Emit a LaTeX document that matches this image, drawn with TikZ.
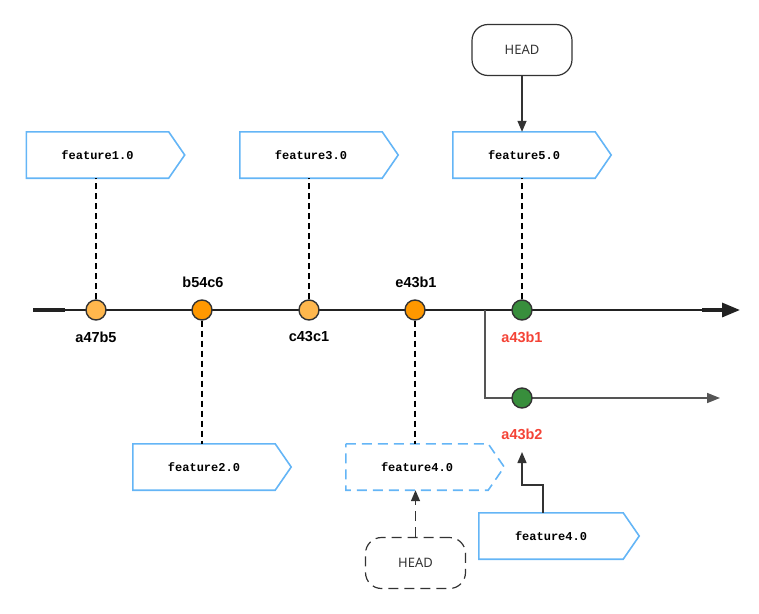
\documentclass[tikz,border=0pt]{standalone}
\usepackage{fontspec}
\setmainfont{Noto Sans}
\newfontfamily\labfont{Liberation Sans}
\newfontfamily\tagfont{Liberation Mono}
\usetikzlibrary{arrows.meta,calc}
\definecolor{lorange}{HTML}{FFB74D}
\definecolor{dorange}{HTML}{FF9800}
\definecolor{cgreen}{HTML}{388E3C}
\definecolor{tagblue}{HTML}{64B5F6}
\definecolor{lred}{HTML}{F44336}
\definecolor{ink}{HTML}{333333}
\definecolor{mainline}{HTML}{222222}
\definecolor{branchgray}{HTML}{555555}
\newcommand\drawtag[2]{\draw[tagblue,line width=1.6pt,#2] (#1.north west) -- (#1.north east) -- ($(#1.east)+(16,0)$) -- (#1.south east) -- (#1.south west) -- cycle;}
\begin{document}
\begin{tikzpicture}[x=1pt,y=-1pt,
  commit/.style={circle,draw=ink,line width=1.4pt,minimum size=20pt,inner sep=0pt},
  clabel/.style={font=\fontsize{14.5}{16}\selectfont\labfont\bfseries,text=black,inner sep=0pt},
  rlabel/.style={clabel,text=lred},
  tagbox/.style={minimum width=142pt,minimum height=46pt,inner sep=0pt,font=\fontsize{12}{14}\selectfont\tagfont\bfseries},
  headbox/.style={draw=ink,rounded corners=16pt,minimum width=100pt,minimum height=51pt,line width=1.2pt,font=\fontsize{13}{15}\selectfont,text=ink},
  link/.style={dash pattern=on 6pt off 4pt,line width=1.8pt,black},
  ptr/.style={ink,line width=1.4pt,-{Triangle[length=11pt,width=9pt]}},
]
\useasboundingbox (0,0) rectangle (759,613);

% main line
\coordinate (ms) at (33,310);
\coordinate (me) at (740,310);
\coordinate (ma) at (702,310);
\draw[mainline,line width=2.2pt] (ms) -- (ma);
\draw[mainline,line width=3.2pt] (ms) -- ++(32,0);
\draw[mainline,line width=3.2pt,-{Triangle[length=18pt,width=14pt]}] (ma) -- (me);

% branch
\coordinate (bs) at (485,310);
\coordinate (be) at (720,398);
\draw[branchgray,line width=1.6pt,-{Triangle[length=13pt,width=10pt]}] (bs) -- (bs |- be) -- (be);

% commits
\node[commit,fill=lorange] (c1) at (96,310) {};
\node[commit,fill=dorange] (c2) at (202,310) {};
\node[commit,fill=lorange] (c3) at (309,310) {};
\node[commit,fill=dorange] (c4) at (415,310) {};
\node[commit,fill=cgreen] (c5) at (522,310) {};
\node[commit,fill=cgreen] (c6) at (522,398) {};

% commit labels
\node[clabel] (l1) at (96,337) {a47b5};
\node[clabel] (l2) at (203,282) {b54c6};
\node[clabel] (l3) at (309,337) {c43c1};
\node[clabel] (l4) at (416,282) {e43b1};
\node[rlabel] (l5) at (522,337) {a43b1};
\node[rlabel] (l6) at (522,434) {a43b2};

% tags
\node[tagbox] (t1) at (97.5,155) {feature1.0};
\node[tagbox] (t2) at (204,467) {feature2.0};
\node[tagbox] (t3) at (311,155) {feature3.0};
\node[tagbox] (t4d) at (417,467) {feature4.0};
\node[tagbox] (t5) at (524,155) {feature5.0};
\node[tagbox,minimum width=144pt] (t4) at (551,536) {feature4.0};
\drawtag{t1}{}
\drawtag{t2}{}
\drawtag{t3}{}
\drawtag{t4d}{dash pattern=on 10pt off 6pt}
\drawtag{t5}{}
\drawtag{t4}{}

% dashed links
\draw[link] (c1.north) -- (c1 |- t1.south);
\draw[link] (c2.south) -- (c2 |- t2.north);
\draw[link] (c3.north) -- (c3 |- t3.south);
\draw[link] (c4.south) -- (c4 |- t4d.north);
\draw[link] (c5.north) -- (c5 |- t5.south);

% HEAD nodes
\node[headbox] (h1) at (522,50) {HEAD};
\node[headbox,dash pattern=on 10pt off 6pt] (h2) at (415.5,563) {HEAD};
\draw[ptr] (h1.south) -- (h1.south |- t5.north);
\draw[ptr,dash pattern=on 10pt off 6pt] (h2.north) -- (h2.north |- t4d.south);

% arrow from solid feature4.0 to a43b2
\coordinate (k) at (543,485);
\coordinate (tip) at (522,452);
\draw[ptr] (k |- t4.north) -- (k) -- (k -| tip) -- (tip);
\end{tikzpicture}
\end{document}
